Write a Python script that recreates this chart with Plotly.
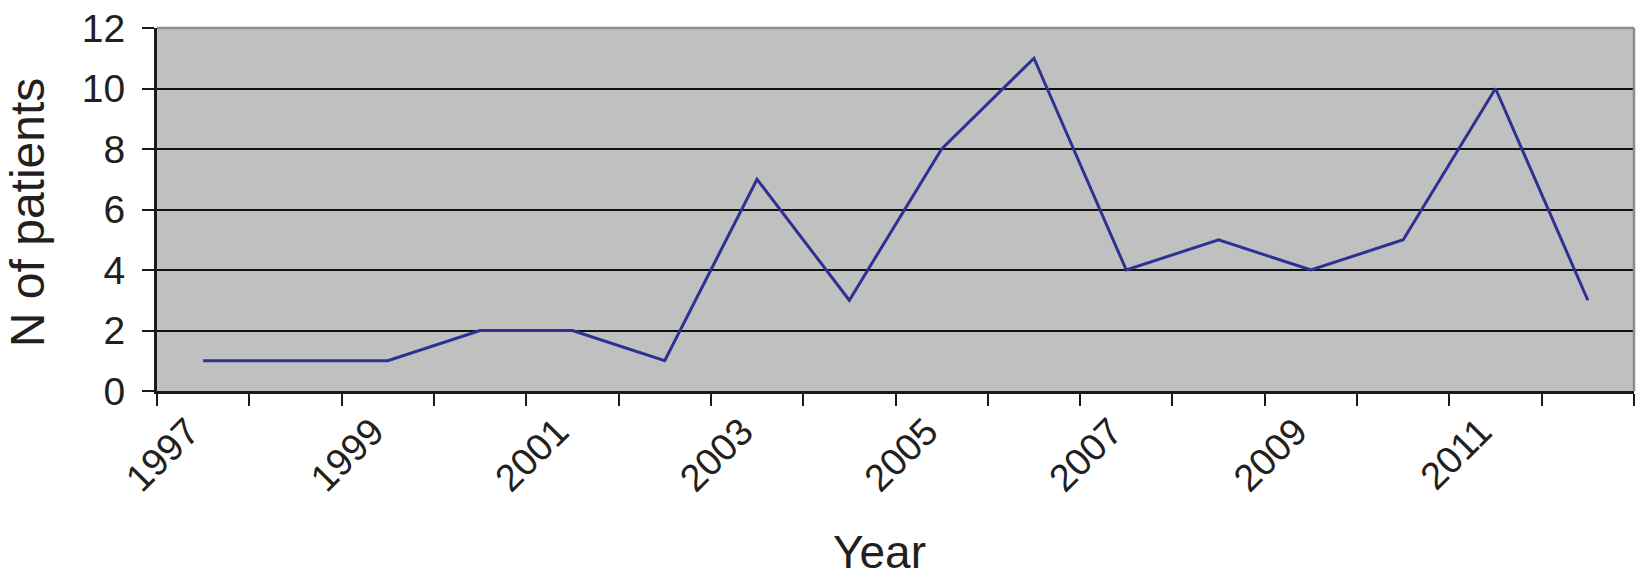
import plotly.graph_objects as go

years = [1997, 1998, 1999, 2000, 2001, 2002, 2003, 2004, 2005, 2006, 2007, 2008, 2009, 2010, 2011, 2012]
patients = [1, 1, 1, 2, 2, 1, 7, 3, 8, 11, 4, 5, 4, 5, 10, 3]
label_years = [1997, 1999, 2001, 2003, 2005, 2007, 2009, 2011]
y_ticks = [0, 2, 4, 6, 8, 10, 12]

FONT = "Liberation Sans, Arial, Helvetica, sans-serif"
TXT = "#231f20"

fig = go.Figure()
fig.add_trace(go.Scatter(
    x=years, y=patients, mode="lines",
    line=dict(color="#2e3192", width=3),
    showlegend=False, hoverinfo="skip",
))

fig.update_layout(
    width=1636, height=583,
    margin=dict(l=157, r=2, t=28, b=192),
    paper_bgcolor="white",
    plot_bgcolor="#c0c0c0",
    font=dict(family=FONT, color=TXT),
    xaxis=dict(
        range=[years[0] - 0.5, years[-1] + 0.5],
        automargin=False,
        tickmode="array",
        tickvals=label_years,
        ticktext=[str(y) for y in label_years],
        ticks="",
        tickangle=-45,
        ticklabelstandoff=0,
        ticklabelshift=-15,
        tickfont=dict(size=38, family=FONT, color=TXT),
        showgrid=False,
        zeroline=False,
        showline=True, linecolor="#1a1a1a", linewidth=3,
        minor=dict(tick0=years[0] - 0.5, dtick=1, ticks="outside",
                   ticklen=12, tickwidth=2, tickcolor="#1a1a1a", showgrid=False),
    ),
    yaxis=dict(
        range=[0, 12],
        automargin=False,
        tickmode="array",
        tickvals=y_ticks,
        ticks="outside", ticklen=12, tickwidth=2, tickcolor="#1a1a1a",
        ticklabelstandoff=9,
        tickfont=dict(size=39, family=FONT, color=TXT),
        showgrid=True, gridcolor="#111111", gridwidth=2,
        zeroline=False,
        showline=True, linecolor="#1a1a1a", linewidth=3,
    ),
    annotations=[
        dict(text="Year", xref="paper", yref="paper", x=0.4895, y=-0.4435,
             xanchor="center", yanchor="middle", showarrow=False,
             font=dict(size=46, family=FONT, color=TXT)),
        dict(text="N of patients", xref="paper", yref="paper", x=-0.088, y=0.49,
             xanchor="center", yanchor="middle", showarrow=False, textangle=-90,
             font=dict(size=48, family=FONT, color=TXT)),
    ],
    shapes=[
        dict(type="line", xref="x domain", yref="y domain", x0=0, x1=1, y0=1, y1=1,
             line=dict(color="#8c8c8c", width=2.5), layer="above"),
        dict(type="line", xref="x domain", yref="y domain", x0=1, x1=1, y0=0, y1=1,
             line=dict(color="#8c8c8c", width=2.5), layer="above"),
    ],
)

fig.write_html("out.html", config={"displayModeBar": False},
               post_script="document.body.style.margin='0';")
